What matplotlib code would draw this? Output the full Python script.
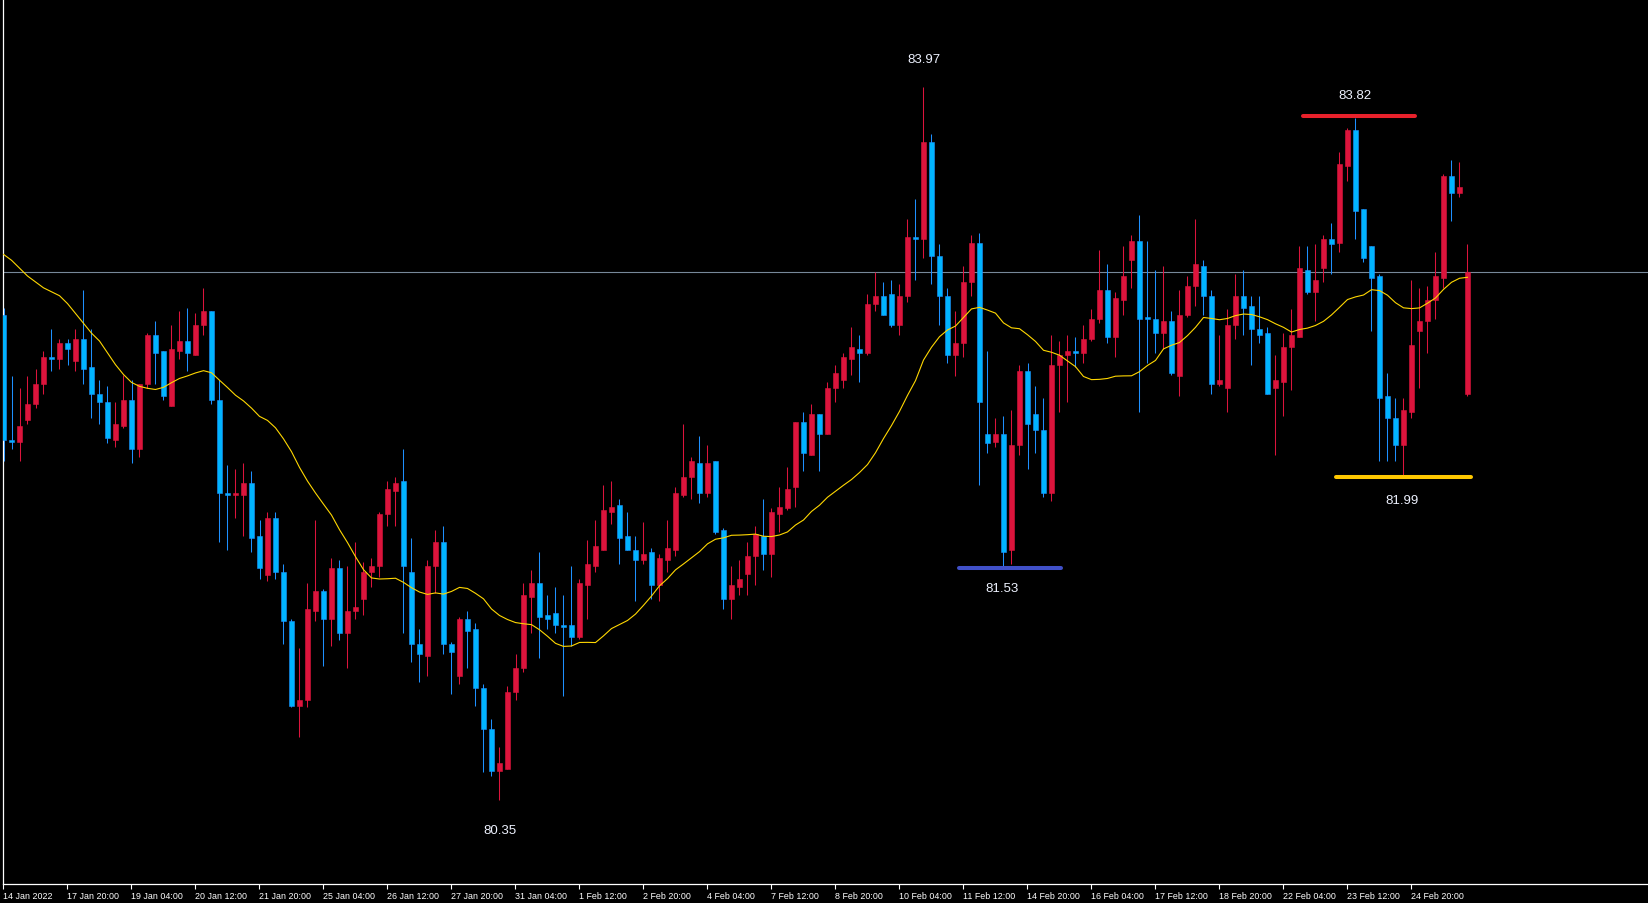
import numpy as np
import matplotlib
matplotlib.use("Agg")
import matplotlib.pyplot as plt

# ---------------- data (H4 candles, 14 Jan 2022 12:00 -> 28 Feb 2022 00:00) ----------------
opens = [
    82.81, 82.18, 82.17, 82.28, 82.36, 82.46, 82.60, 82.59, 82.67, 82.58,
    82.69, 82.55, 82.41, 82.37, 82.18, 82.25, 82.38, 82.13, 82.46, 82.71,
    82.63, 82.35, 82.63, 82.68, 82.61, 82.76, 82.83, 82.38, 81.91, 81.90,
    81.90, 81.96, 81.69, 81.49, 81.78, 81.51, 81.26, 80.83, 80.86, 81.31,
    81.41, 81.27, 81.53, 81.20, 81.31, 81.37, 81.51, 81.54, 81.80, 81.92,
    81.97, 81.51, 81.14, 81.08, 81.54, 81.66, 81.14, 80.98, 81.27, 81.22,
    80.92, 80.71, 80.50, 80.51, 80.90, 81.02, 81.38, 81.45, 81.29, 81.30,
    81.24, 81.24, 81.18, 81.44, 81.54, 81.62, 81.81, 81.85, 81.69, 81.62,
    81.57, 81.61, 81.44, 81.57, 81.62, 81.90, 81.99, 82.06, 81.91, 82.07,
    81.72, 81.37, 81.43, 81.50, 81.59, 81.69, 81.60, 81.80, 81.83, 81.94,
    82.27, 82.10, 82.31, 82.21, 82.44, 82.48, 82.59, 82.64, 82.62, 82.87,
    82.91, 82.92, 82.76, 82.91, 83.21, 83.20, 83.69, 83.11, 82.91, 82.61,
    82.67, 82.98, 83.18, 82.21, 82.17, 82.21, 81.62, 82.15, 82.53, 82.31,
    82.23, 81.91, 82.56, 82.61, 82.63, 82.62, 82.69, 82.79, 82.94, 82.70,
    82.89, 83.09, 83.19, 82.80, 82.79, 82.72, 82.78, 82.50, 82.81, 82.96,
    83.06, 82.91, 82.46, 82.44, 82.76, 82.91, 82.86, 82.74, 82.72, 82.44,
    82.47, 82.65, 82.70, 83.04, 82.93, 83.05, 83.20, 83.18, 83.57, 83.75,
    83.35, 83.16, 83.01, 82.40, 82.29, 82.15, 82.32, 82.73, 82.78, 82.89,
    83.00, 83.52, 83.43, 82.41,
]
highs = [
    82.85, 82.50, 82.44, 82.50, 82.54, 82.63, 82.74, 82.69, 82.69, 82.74,
    82.94, 82.74, 82.48, 82.45, 82.37, 82.51, 82.48, 82.46, 82.72, 82.78,
    82.63, 82.76, 82.83, 82.85, 82.82, 82.95, 82.83, 82.48, 82.05, 82.03,
    82.06, 82.02, 81.77, 81.81, 81.81, 81.55, 81.27, 81.12, 81.45, 81.77,
    81.42, 81.58, 81.57, 81.54, 81.66, 81.56, 81.58, 81.81, 81.97, 81.99,
    82.13, 81.68, 81.22, 81.57, 81.72, 81.74, 81.15, 81.28, 81.31, 81.25,
    80.94, 80.76, 80.62, 80.93, 81.09, 81.45, 81.52, 81.61, 81.39, 81.43,
    81.39, 81.54, 81.47, 81.67, 81.77, 81.95, 81.97, 81.88, 81.81, 81.69,
    81.76, 81.63, 81.60, 81.77, 81.94, 82.26, 82.09, 82.20, 82.15, 82.07,
    81.73, 81.54, 81.57, 81.66, 81.74, 81.88, 81.83, 81.94, 82.04, 82.27,
    82.32, 82.36, 82.31, 82.47, 82.56, 82.62, 82.75, 82.71, 82.92, 83.03,
    82.98, 82.99, 82.97, 83.30, 83.40, 83.97, 83.73, 83.17, 82.95, 82.83,
    83.06, 83.22, 83.23, 82.63, 82.29, 82.30, 82.33, 82.56, 82.57, 82.45,
    82.39, 82.71, 82.68, 82.71, 82.70, 82.76, 82.84, 83.14, 83.07, 82.93,
    83.16, 83.22, 83.32, 83.19, 83.04, 83.06, 82.83, 82.94, 83.01, 83.30,
    83.09, 82.94, 82.71, 82.84, 83.02, 83.04, 82.91, 82.91, 82.75, 82.61,
    82.72, 82.84, 83.16, 83.16, 83.17, 83.22, 83.28, 83.64, 83.76, 83.81,
    83.35, 83.16, 83.02, 82.52, 82.39, 82.39, 82.99, 82.95, 82.96, 83.13,
    83.53, 83.60, 83.59, 83.17,
]
lows = [
    82.07, 82.13, 82.07, 82.26, 82.34, 82.41, 82.53, 82.54, 82.56, 82.53,
    82.46, 82.29, 82.26, 82.16, 82.14, 82.24, 82.06, 82.09, 82.44, 82.46,
    82.38, 82.35, 82.59, 82.53, 82.61, 82.71, 82.36, 81.66, 81.62, 81.78,
    81.69, 81.61, 81.47, 81.46, 81.47, 81.14, 80.82, 80.67, 80.82, 81.26,
    81.03, 81.13, 81.16, 81.02, 81.27, 81.29, 81.43, 81.48, 81.74, 81.74,
    81.20, 81.05, 80.95, 80.98, 81.40, 81.09, 80.89, 80.94, 81.02, 80.83,
    80.49, 80.47, 80.35, 80.51, 80.86, 81.00, 81.20, 81.07, 81.22, 81.20,
    80.88, 81.13, 81.17, 81.27, 81.51, 81.62, 81.75, 81.55, 81.62, 81.36,
    81.55, 81.37, 81.36, 81.51, 81.59, 81.89, 81.88, 81.86, 81.89, 81.70,
    81.32, 81.27, 81.39, 81.39, 81.44, 81.52, 81.48, 81.71, 81.82, 81.84,
    82.02, 82.10, 82.02, 82.21, 82.37, 82.44, 82.51, 82.47, 82.61, 82.83,
    82.81, 82.75, 82.71, 82.88, 82.99, 83.10, 82.97, 82.76, 82.57, 82.50,
    82.60, 82.91, 81.95, 82.11, 82.14, 81.53, 81.55, 82.10, 82.03, 82.11,
    81.89, 81.87, 82.32, 82.37, 82.55, 82.57, 82.68, 82.77, 82.67, 82.60,
    82.81, 82.95, 82.32, 82.57, 82.62, 82.64, 82.51, 82.40, 82.80, 82.86,
    82.81, 82.41, 82.45, 82.32, 82.69, 82.71, 82.56, 82.67, 82.41, 82.10,
    82.30, 82.43, 82.70, 82.92, 82.78, 82.98, 83.02, 83.13, 83.49, 83.20,
    83.08, 82.73, 82.07, 82.07, 82.07, 81.99, 82.29, 82.44, 82.62, 82.79,
    82.95, 83.29, 83.41, 82.40,
]
closes = [
    82.18, 82.17, 82.25, 82.36, 82.46, 82.60, 82.59, 82.67, 82.64, 82.69,
    82.54, 82.41, 82.37, 82.19, 82.26, 82.38, 82.13, 82.46, 82.71, 82.62,
    82.40, 82.64, 82.68, 82.62, 82.76, 82.83, 82.38, 81.91, 81.90, 81.91,
    81.96, 81.68, 81.53, 81.78, 81.51, 81.26, 80.83, 80.86, 81.32, 81.41,
    81.27, 81.53, 81.20, 81.31, 81.33, 81.51, 81.54, 81.80, 81.93, 81.96,
    81.54, 81.14, 81.09, 81.54, 81.66, 81.14, 81.10, 81.27, 81.21, 80.92,
    80.71, 80.50, 80.54, 80.90, 81.02, 81.39, 81.45, 81.28, 81.27, 81.24,
    81.23, 81.18, 81.45, 81.55, 81.64, 81.82, 81.84, 81.68, 81.62, 81.57,
    81.60, 81.44, 81.58, 81.63, 81.91, 81.99, 82.07, 81.91, 82.06, 81.71,
    81.37, 81.44, 81.47, 81.59, 81.70, 81.60, 81.81, 81.84, 81.93, 82.27,
    82.11, 82.31, 82.21, 82.44, 82.52, 82.60, 82.65, 82.62, 82.87, 82.91,
    82.81, 82.76, 82.91, 83.21, 83.20, 83.69, 83.11, 82.91, 82.61, 82.67,
    82.98, 83.18, 82.37, 82.16, 82.21, 81.61, 82.15, 82.53, 82.26, 82.23,
    81.91, 82.56, 82.61, 82.63, 82.62, 82.69, 82.79, 82.94, 82.70, 82.90,
    83.01, 83.19, 82.79, 82.79, 82.72, 82.78, 82.52, 82.81, 82.96, 83.07,
    82.91, 82.46, 82.48, 82.76, 82.91, 82.85, 82.74, 82.71, 82.41, 82.48,
    82.65, 82.71, 83.05, 82.93, 82.99, 83.20, 83.17, 83.58, 83.75, 83.34,
    83.10, 83.00, 82.39, 82.29, 82.15, 82.33, 82.66, 82.78, 82.89, 83.01,
    83.52, 83.43, 83.46, 83.03,
]
# 20-period moving average for the first bars (its earlier history is off-chart)
ma_head = [83.12, 83.09, 83.05, 83.01, 82.98, 82.95, 82.93, 82.91, 82.87, 82.82,
           82.77, 82.72, 82.68, 82.62, 82.56, 82.51, 82.47, 82.45, 82.44]
ma_period = 20

tick_labels = ["14 Jan 2022", "17 Jan 20:00", "19 Jan 04:00", "20 Jan 12:00", "21 Jan 20:00",
               "25 Jan 04:00", "26 Jan 12:00", "27 Jan 20:00", "31 Jan 04:00", "1 Feb 12:00",
               "2 Feb 20:00", "4 Feb 04:00", "7 Feb 12:00", "8 Feb 20:00", "10 Feb 04:00",
               "11 Feb 12:00", "14 Feb 20:00", "16 Feb 04:00", "17 Feb 12:00", "18 Feb 20:00",
               "22 Feb 04:00", "23 Feb 12:00", "24 Feb 20:00"]
bars_per_tick = 8

# marked levels
peak_bar, peak_value = 115, 83.97
trough_bar, trough_value = 62, 80.35
resistance_value = 83.82
support_mid_value = 81.53
support_late_value = 81.99

# ---------------- drawing ----------------
W, H = 1648, 904
fig = plt.figure(figsize=(W / 100, H / 100), dpi=100, facecolor="black")
ax_left, ax_bottom = 2.5, 885
ax = fig.add_axes([ax_left / W, (H - ax_bottom) / H, 1 - ax_left / W, ax_bottom / H])
ax.set_facecolor("black")

o = np.array(opens); h = np.array(highs); l = np.array(lows); c = np.array(closes)
n = len(c)
idx = np.arange(n)

y_top, y_bot = 84.416, 79.924
ax.set_ylim(y_bot, y_top)
ax.set_xlim(-0.125, (W - 3.5) / 8)
ppx = (y_top - y_bot) / ax_bottom  # price per pixel

RED = "#DC143C"
BLUE_BODY = "#00B4FF"
BLUE_EDGE = "#1E90FF"

up = c >= o
dn = ~up
body_lo = np.minimum(o, c)
body_h = np.maximum(np.abs(c - o), ppx)

# bid line (behind candles)
ax.axhline(c[-1], color="#778899", lw=0.8, zorder=1)

ax.vlines(idx[up], l[up], h[up], color=RED, lw=0.75, zorder=2)
ax.vlines(idx[dn], l[dn], h[dn], color=BLUE_EDGE, lw=0.75, zorder=2)
ax.bar(idx[up], body_h[up], bottom=body_lo[up], width=0.56, color=RED,
       edgecolor=RED, linewidth=0.4, zorder=3)
ax.bar(idx[dn], body_h[dn], bottom=body_lo[dn], width=0.56, color=BLUE_BODY,
       edgecolor=BLUE_EDGE, linewidth=0.4, zorder=3)

# moving average
ma = np.empty(n)
k = len(ma_head)
ma[:k] = ma_head
for i in range(k, n):
    ma[i] = c[i - ma_period + 1:i + 1].mean()
ax.plot(idx, ma, color="#FFD700", lw=0.8, zorder=4)

# level lines
ax.plot([162.4, 176.5], [resistance_value] * 2, color="#E8212B", lw=2.9,
        solid_capstyle="round", zorder=5)
ax.plot([119.4, 132.2], [support_mid_value] * 2, color="#4050C8", lw=2.9,
        solid_capstyle="round", zorder=5)
ax.plot([166.6, 183.4], [support_late_value] * 2, color="#FFC800", lw=2.9,
        solid_capstyle="round", zorder=5)

lab_font = dict(color="#EEF2FF", fontsize=9.5, family=["Liberation Sans", "DejaVu Sans"],
                ha="center", va="center", textcoords="offset pixels", zorder=6)
ax.annotate(f"{peak_value:.2f}", (peak_bar, peak_value), xytext=(0, 28), **lab_font)
ax.annotate(f"{trough_value:.2f}", (trough_bar, trough_value), xytext=(0, -30), **lab_font)
ax.annotate(f"{resistance_value:.2f}", (168.9, resistance_value), xytext=(0, 21), **lab_font)
ax.annotate(f"{support_mid_value:.2f}", (124.8, support_mid_value), xytext=(0, -20), **lab_font)
ax.annotate(f"{support_late_value:.2f}", (174.8, support_late_value), xytext=(0, -23), **lab_font)

# axes styling
for s in ("top", "right"):
    ax.spines[s].set_visible(False)
for s in ("left", "bottom"):
    ax.spines[s].set_color("white")
    ax.spines[s].set_linewidth(0.9)
ax.set_yticks([])
ticks = np.arange(len(tick_labels)) * bars_per_tick - 0.06
ax.set_xticks(ticks)
ax.set_xticklabels(tick_labels, ha="left", family=["Liberation Sans", "DejaVu Sans"],
                   fontsize=6.4, color="white")
ax.tick_params(axis="x", colors="white", length=3.6, width=0.8, pad=1.2, direction="out")

fig.savefig("out.png", dpi=100, facecolor="black")
